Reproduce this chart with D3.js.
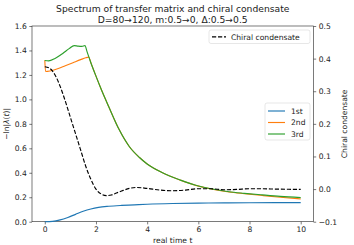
<!DOCTYPE html>
<html>
<head>
<meta charset="utf-8">
<script src="https://cdn.jsdelivr.net/npm/d3@7"></script>
<style>
body { margin: 0; background: #fff; }
text { font-family: "DejaVu Sans", sans-serif; fill: #222; }
</style>
</head>
<body>
<div id="chart"></div>
<script>
var w = 354,
	h = 245;

//Data
var tFirst = [0, 0.3, 0.6, 0.9, 1.2, 1.5, 1.8, 2.1, 2.5, 3.0, 3.5, 4.0, 5.0, 6.0, 7.0, 8.0, 9.0, 10];
var first  = [0, 0.003, 0.015, 0.035, 0.06, 0.085, 0.104, 0.117, 0.126, 0.133, 0.138, 0.143, 0.149, 0.152, 0.154, 0.155, 0.156, 0.156];

var tSecond = [0, 0.03, 0.2, 0.5, 0.8, 1.1, 1.4, 1.6, 1.72, 1.8, 2.0, 2.2, 2.5, 2.9, 3.3, 3.7, 4.0, 4.6, 5.3, 5.9, 6.6, 7.2, 7.8, 8.5, 9.2, 10];
var second  = [1.32, 1.228, 1.232, 1.25, 1.275, 1.30, 1.325, 1.34, 1.345, 1.30, 1.19, 1.085, 0.94, 0.755, 0.615, 0.525, 0.472, 0.40, 0.34, 0.297, 0.263, 0.243, 0.229, 0.214, 0.200, 0.186];

var tThird = [0, 0.15, 0.4, 0.7, 0.95, 1.15, 1.3, 1.45, 1.57, 1.65, 1.8, 2.0, 2.2, 2.5, 2.9, 3.3, 3.7, 4.0, 4.6, 5.3, 5.9, 6.6, 7.2, 7.8, 8.5, 9.2, 10];
var third  = [1.318, 1.315, 1.335, 1.375, 1.415, 1.44, 1.435, 1.433, 1.44, 1.39, 1.30, 1.19, 1.085, 0.94, 0.755, 0.615, 0.525, 0.472, 0.40, 0.34, 0.298, 0.265, 0.245, 0.232, 0.219, 0.207, 0.197];

var tChiral = [0, 0.2, 0.4, 0.6, 0.8, 1.0, 1.2, 1.4, 1.6, 1.8, 2.0, 2.2, 2.4, 2.6, 2.8, 3.0, 3.3, 3.6, 4.0, 4.5, 5.0, 5.5, 6.0, 6.5, 7.0, 7.5, 8.0, 8.5, 9.0, 10];
var chiral  = [0.375, 0.37, 0.35, 0.315, 0.27, 0.22, 0.17, 0.12, 0.07, 0.03, 0.0, -0.015, -0.02, -0.018, -0.012, -0.006, 0.002, 0.005, 0.002, -0.003, -0.005, -0.003, 0.001, 0.001, -0.002, -0.001, 0.001, 0.001, 0.0, -0.001];

var seriesNames = ["1st", "2nd", "3rd"];
var colors = ["#1f77b4", "#ff7f0e", "#2ca02c"];

var xTicks = [0, 2, 4, 6, 8, 10];
var yTicks = [0, 0.2, 0.4, 0.6, 0.8, 1.0, 1.2, 1.4, 1.6];
var y2Ticks = [-0.1, 0, 0.1, 0.2, 0.3, 0.4, 0.5];

var m = {left: 32, right: 354 - 313.5, top: 26, bottom: 245 - 221.7};

var svg = d3.select("#chart").append("svg")
	.attr("width", w)
	.attr("height", h);

var x = d3.scaleLinear().domain([-0.5, 10.5]).range([m.left, w - m.right]);
var y = d3.scaleLinear().domain([0, 1.6]).range([h - m.bottom, m.top]);
var y2 = d3.scaleLinear().domain([-0.1, 0.5]).range([h - m.bottom, m.top]);

var fmt = function(d){ return d3.format(".1f")(d).replace("-", "\u2212"); };

//Axes
var gx = svg.append("g")
	.attr("transform", "translate(0," + (h - m.bottom) + ")")
	.call(d3.axisBottom(x).tickValues(xTicks).tickSize(2.7).tickPadding(2.5).tickFormat(d3.format("d")));
var gy = svg.append("g")
	.attr("transform", "translate(" + m.left + ",0)")
	.call(d3.axisLeft(y).tickValues(yTicks).tickSize(2.7).tickPadding(2.5).tickFormat(fmt));
var gy2 = svg.append("g")
	.attr("transform", "translate(" + (w - m.right) + ",0)")
	.call(d3.axisRight(y2).tickValues(y2Ticks).tickSize(2.7).tickPadding(2.5).tickFormat(fmt));

[gx, gy, gy2].forEach(function(g){
	g.select(".domain").remove();
	g.selectAll("line").attr("stroke", "#222").attr("stroke-width", 0.6);
	g.selectAll("text").attr("font-size", "7.6px").attr("fill", "#222").attr("font-family", "DejaVu Sans");
});

//Frame
svg.append("rect")
	.attr("x", m.left)
	.attr("y", m.top)
	.attr("width", w - m.right - m.left)
	.attr("height", h - m.bottom - m.top)
	.attr("fill", "none")
	.attr("stroke", "#222")
	.attr("stroke-width", 0.6);

//Lines
var line = function(ts, ys, scale){
	return d3.line()
		.x(function(d, i){ return x(ts[i]); })
		.y(function(d){ return scale(d); })
		.curve(d3.curveMonotoneX)(ys);
};

var lefts = [[tFirst, first], [tSecond, second], [tThird, third]];
lefts.forEach(function(s, i){
	svg.append("path")
		.attr("d", line(s[0], s[1], y))
		.attr("fill", "none")
		.attr("stroke", colors[i])
		.attr("stroke-width", 1.15);
});

svg.append("path")
	.attr("d", line(tChiral, chiral, y2))
	.attr("fill", "none")
	.attr("stroke", "#000")
	.attr("stroke-width", 1.15)
	.attr("stroke-dasharray", "4.2,1.8");

//Titles
svg.append("text")
	.attr("x", (m.left + w - m.right) / 2)
	.attr("y", 11.5)
	.attr("text-anchor", "middle")
	.attr("font-size", "9.2px")
	.text("Spectrum of transfer matrix and chiral condensate");
svg.append("text")
	.attr("x", (m.left + w - m.right) / 2)
	.attr("y", 22.5)
	.attr("text-anchor", "middle")
	.attr("font-size", "9.2px")
	.text("D=80\u2192120, m:0.5\u21920, \u0394:0.5\u21920.5");

svg.append("text")
	.attr("x", (m.left + w - m.right) / 2)
	.attr("y", 243)
	.attr("text-anchor", "middle")
	.attr("font-size", "7.6px")
	.text("real time t");

var ylab = svg.append("text")
	.attr("transform", "translate(9," + ((m.top + h - m.bottom) / 2) + ") rotate(-90)")
	.attr("text-anchor", "middle")
	.attr("font-size", "7.6px");
ylab.append("tspan").text("\u2212ln|");
ylab.append("tspan").attr("font-style", "italic").text("\u03bb");
ylab.append("tspan").text("(");
ylab.append("tspan").attr("font-style", "italic").text("t");
ylab.append("tspan").text(")|");

svg.append("text")
	.attr("transform", "translate(347," + ((m.top + h - m.bottom) / 2) + ") rotate(-90)")
	.attr("text-anchor", "middle")
	.attr("font-size", "7.6px")
	.text("Chiral condensate");

//Legend for the condensate
var leg1 = svg.append("g");
leg1.append("rect")
	.attr("x", 209).attr("y", 30)
	.attr("width", 101).attr("height", 13.5)
	.attr("rx", 2)
	.attr("fill", "#fff").attr("fill-opacity", 0.8)
	.attr("stroke", "#d6d6d6").attr("stroke-width", 0.6);
leg1.append("line")
	.attr("x1", 212).attr("x2", 226)
	.attr("y1", 36.8).attr("y2", 36.8)
	.attr("stroke", "#000").attr("stroke-width", 1.15)
	.attr("stroke-dasharray", "4.2,1.8");
leg1.append("text")
	.attr("x", 231).attr("y", 39.5)
	.attr("font-size", "7.6px")
	.text("Chiral condensate");

//Legend for the spectrum
var leg2 = svg.append("g");
leg2.append("rect")
	.attr("x", 265).attr("y", 103)
	.attr("width", 45).attr("height", 37)
	.attr("rx", 2)
	.attr("fill", "#fff").attr("fill-opacity", 0.8)
	.attr("stroke", "#d6d6d6").attr("stroke-width", 0.6);
leg2.selectAll("line")
	.data(seriesNames)
	.enter()
	.append("line")
	.attr("x1", 268).attr("x2", 285)
	.attr("y1", function(d, i){ return 111 + i * 11.5; })
	.attr("y2", function(d, i){ return 111 + i * 11.5; })
	.attr("stroke", function(d, i){ return colors[i]; })
	.attr("stroke-width", 1.15);
leg2.selectAll("text")
	.data(seriesNames)
	.enter()
	.append("text")
	.attr("x", 291)
	.attr("y", function(d, i){ return 113.8 + i * 11.5; })
	.attr("font-size", "7.6px")
	.text(function(d){ return d; });
</script>
</body>
</html>
